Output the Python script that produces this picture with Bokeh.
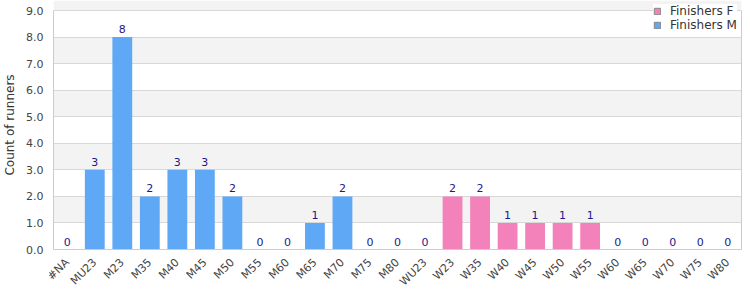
import math
from bokeh.plotting import figure
from bokeh.models import (ColumnDataSource, Legend, LegendItem, NumeralTickFormatter,
                          FixedTicker, Range1d, LinearAxis)
from bokeh.core.properties import value
from bokeh.embed import file_html
from bokeh.resources import INLINE

categories = ["#NA", "MU23", "M23", "M35", "M40", "M45", "M50", "M55", "M60", "M65",
              "M70", "M75", "M80", "WU23", "W23", "W35", "W40", "W45", "W50", "W55",
              "W60", "W65", "W70", "W75", "W80"]
finishers_m = [0, 3, 8, 2, 3, 3, 2, 0, 0, 1, 2, 0, 0, 0, 0, 0, 0, 0, 0, 0, 0, 0, 0, 0, 0]
finishers_f = [0, 0, 0, 0, 0, 0, 0, 0, 0, 0, 0, 0, 0, 0, 2, 2, 1, 1, 1, 1, 0, 0, 0, 0, 0]
y_ticks = [0, 1, 2, 3, 4, 5, 6, 7, 8, 9]
series_names = ["Finishers F", "Finishers M"]

BLUE = "#5fa8f5"
PINK = "#f282b9"
FONT = "DejaVu Sans"
Y_MAX = 9
# a little head-room above the top tick leaves space for the legend
Y_END = Y_MAX * 249.0 / 239.0

totals = [m + f for m, f in zip(finishers_m, finishers_f)]
src = ColumnDataSource(dict(cat=categories, m=finishers_m, f=finishers_f,
                            total=totals, label=[str(t) for t in totals]))

p = figure(x_range=categories, y_range=Range1d(0, Y_END), width=750, height=300,
           output_backend="svg", toolbar_location=None,
           min_border_left=50, min_border_right=9, min_border_top=0, min_border_bottom=51)

rs = p.vbar_stack(["m", "f"], x="cat", width=0.72, source=src,
                  color=[BLUE, PINK], line_color=None)

p.text(x="cat", y="total", text="label", source=src, text_align="center",
       text_baseline="bottom", y_offset=-4, text_color="#1a1a8c",
       text_font=value(FONT), text_font_size="11px")

# legend-only proxy renderers (kept below the visible y range, so never shown in the plot)
proxy = ColumnDataSource(dict(x=[categories[0]], top=[-1], bottom=[-2]))
lf = p.vbar(x="x", top="top", bottom="bottom", width=0.5, source=proxy,
            fill_color=PINK, line_color="#888888")
lm = p.vbar(x="x", top="top", bottom="bottom", width=0.5, source=proxy,
            fill_color=BLUE, line_color="#888888")
legend = Legend(items=[LegendItem(label=series_names[0], renderers=[lf]),
                       LegendItem(label=series_names[1], renderers=[lm])],
                location=(600, 217), glyph_width=8, glyph_height=8,
                label_text_font=FONT, label_text_font_size="12px",
                label_text_color="#333333", label_height=14, spacing=0,
                padding=2, margin=0, border_line_color=None,
                background_fill_color="white", background_fill_alpha=1,
                label_standoff=9)
p.add_layout(legend, "center")

p.yaxis.ticker = FixedTicker(ticks=y_ticks)
p.yaxis.bounds = (0, Y_MAX)
p.yaxis.formatter = NumeralTickFormatter(format="0.0")
p.yaxis.axis_label = "Count of runners"
p.yaxis.axis_label_text_font = FONT
p.yaxis.axis_label_text_font_size = "12px"
p.yaxis.axis_label_text_font_style = "normal"
p.yaxis.axis_label_text_color = "#333333"
p.yaxis.axis_label_standoff = 6
p.yaxis.major_label_text_font = FONT
p.yaxis.major_label_text_font_size = "11px"
p.yaxis.major_label_text_color = "#444444"
p.yaxis.major_tick_line_color = None
p.yaxis.major_tick_out = 0
p.yaxis.major_tick_in = 0
p.yaxis.minor_tick_line_color = None
p.yaxis.minor_tick_out = 0
p.yaxis.major_label_standoff = 10
p.yaxis.axis_line_color = "#cccccc"

right_axis = LinearAxis(ticker=FixedTicker(ticks=[]), bounds=(0, Y_MAX),
                        axis_line_color="#cccccc", major_tick_line_color=None,
                        minor_tick_line_color=None, major_tick_out=0, minor_tick_out=0,
                        major_label_standoff=0)
p.add_layout(right_axis, "right")

p.xaxis.major_label_orientation = math.pi / 4
p.xaxis.major_label_text_font = FONT
p.xaxis.major_label_text_font_size = "11px"
p.xaxis.major_label_text_color = "#444444"
p.xaxis.major_tick_line_color = None
p.xaxis.major_tick_out = 0
p.xaxis.major_tick_in = 0
p.xaxis.axis_line_color = "#cccccc"
p.xaxis.major_label_standoff = 11

p.xgrid.grid_line_color = None
p.ygrid.ticker = FixedTicker(ticks=y_ticks)
p.ygrid.grid_line_color = "#d8d8d8"
p.ygrid.band_fill_color = "#f3f3f3"
p.ygrid.band_fill_alpha = 1.0

p.outline_line_color = None
p.background_fill_color = "white"
p.border_fill_color = "white"

open("out.html", "w").write(file_html(p, INLINE))
